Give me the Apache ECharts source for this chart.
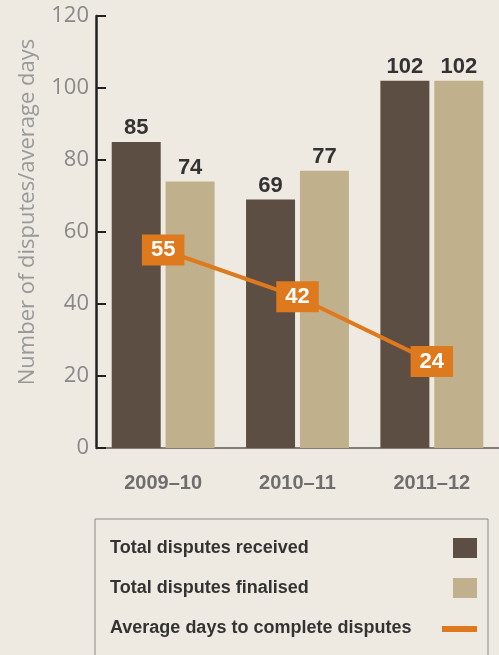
<!DOCTYPE html>
<html><head><meta charset="utf-8">
<script src="https://cdn.jsdelivr.net/npm/echarts@6/dist/echarts.min.js"></script>
<style>html,body{margin:0;padding:0;background:#eeeae1;}#c{width:499px;height:655px;}</style>
</head><body><div id="c"></div>
<script>
const categories = ['2009–10', '2010–11', '2011–12'];
const received = [85, 69, 102];
const finalised = [74, 77, 102];
const avgDays = [55, 42, 24];
const yTicks = {min: 0, max: 120, interval: 20};
const seriesNames = ['Total disputes received', 'Total disputes finalised', 'Average days to complete disputes'];

const chart = echarts.init(document.getElementById('c'), null, {renderer: 'canvas'});
const boldFont = '"Liberation Sans", Arial, sans-serif';
const lightFont = '"Open Sans", sans-serif';
const barLabel = {show: true, position: 'top', distance: 3, color: '#333', fontSize: 22, fontWeight: 'bold', fontFamily: boldFont};
chart.setOption({
  backgroundColor: '#eeeae1',
  animation: false,
  grid: {left: 96, top: 16, width: 406, height: 432, containLabel: false},
  legend: {
    left: 95, top: 519, height: 105, orient: 'vertical', align: 'right',
    padding: [19, 11, 30, 15],
    borderColor: '#8a8a8a', borderWidth: 1,
    itemWidth: 35, itemHeight: 20, itemGap: 20,
    formatter: n => '{a|' + n + '}',
    textStyle: {rich: {a: {width: 327, align: 'left', fontSize: 18, fontWeight: 'bold', color: '#333', fontFamily: boldFont}}},
    data: [
      {name: seriesNames[0], icon: 'path://M0,0M11,0L35,0L35,20L11,20Z'},
      {name: seriesNames[1], icon: 'path://M0,0M11,0L35,0L35,20L11,20Z'},
      {name: seriesNames[2], icon: 'path://M0,0M0,8L35,8L35,14L0,14ZM35,20'}
    ]
  },
  xAxis: {
    type: 'category', data: categories, boundaryGap: true,
    axisLine: {lineStyle: {color: '#7d7d7d', width: 2}},
    axisTick: {inside: true, length: 10, lineStyle: {color: '#7d7d7d', width: 2}},
    axisLabel: {margin: 25, color: '#6e6e6e', fontSize: 20, fontWeight: 'bold', fontFamily: boldFont}
  },
  yAxis: {
    type: 'value', min: yTicks.min, max: yTicks.max, interval: yTicks.interval,
    name: 'Number of disputes/average days', nameLocation: 'middle', nameGap: 57, nameRotate: 90,
    nameTextStyle: {color: '#999', fontSize: 22, fontFamily: lightFont, padding: [0, 0, 0, 40]},
    axisLine: {show: true, lineStyle: {color: '#222', width: 2.5}},
    axisTick: {show: true, inside: true, length: 10, lineStyle: {color: '#222', width: 2}},
    axisLabel: {margin: 7, color: '#888', fontSize: 22, fontFamily: lightFont},
    splitLine: {show: false}
  },
  series: [
    {name: seriesNames[0], type: 'bar', data: received, barWidth: 49, barGap: '10%', itemStyle: {color: '#5d4e44'}, label: barLabel},
    {name: seriesNames[1], type: 'bar', data: finalised, barWidth: 49, barGap: '10%', itemStyle: {color: '#c0b08b'}, label: barLabel},
    {name: seriesNames[2], type: 'line', data: avgDays, symbol: 'circle', symbolSize: 1, z: 5,
     lineStyle: {color: '#df791d', width: 4}, itemStyle: {color: '#df791d'},
     label: {show: true, position: 'inside', color: '#fff', fontSize: 22, fontWeight: 'bold', fontFamily: boldFont,
             backgroundColor: '#df791d', padding: [5, 9, 4, 9]}}
  ]
});
</script></body></html>
